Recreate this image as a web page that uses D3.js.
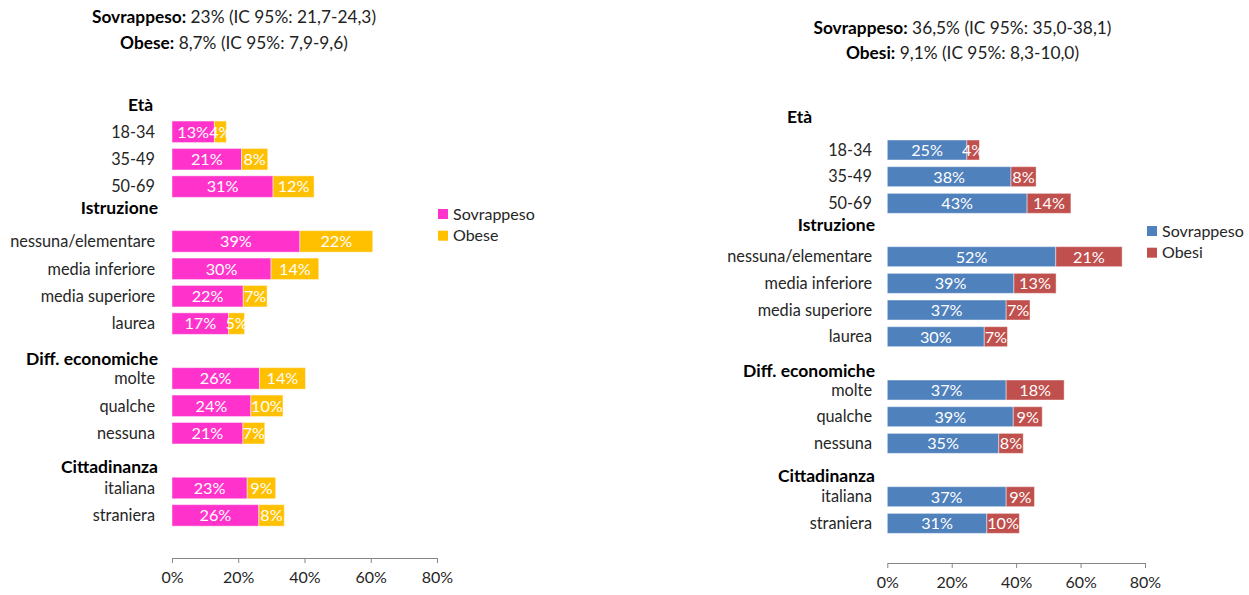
<!DOCTYPE html>
<html><head><meta charset="utf-8">
<script src="https://cdn.jsdelivr.net/npm/d3@7"></script>
<style>
body{margin:0;background:#fff}
svg{display:block}
text{font-family:Lato,"Open Sans",sans-serif}
</style>
</head><body>
<svg id="c" width="1249" height="595"></svg>
<script>
// ---------- DATA ----------
const groups = ["Età", "Istruzione", "Diff. economiche", "Cittadinanza"];
const categories = ["18-34", "35-49", "50-69", "nessuna/elementare", "media inferiore", "media superiore", "laurea", "molte", "qualche", "nessuna", "italiana", "straniera"];
const categoryGroup = [0, 0, 0, 1, 1, 1, 1, 2, 2, 2, 3, 3];
const leftSovrappeso = [12.8, 21.0, 30.5, 38.6, 29.9, 21.5, 17.1, 26.4, 23.8, 21.4, 22.7, 26.2];
const leftObese = [3.6, 7.9, 12.4, 22.0, 14.4, 7.2, 4.8, 13.9, 9.7, 6.6, 8.6, 7.7];
const rightSovrappeso = [24.7, 38.4, 43.4, 52.3, 39.3, 36.9, 30.1, 36.9, 39.1, 34.6, 36.9, 30.9];
const rightObesi = [3.9, 7.8, 13.6, 20.6, 13.1, 7.4, 7.2, 18.0, 9.0, 7.6, 8.8, 10.1];
const leftSeriesNames = ["Sovrappeso", "Obese"];
const rightSeriesNames = ["Sovrappeso", "Obesi"];
const leftTitle = [["Sovrappeso:", " 23% (IC 95%: 21,7-24,3)"], ["Obese:", " 8,7% (IC 95%: 7,9-9,6)"]];
const rightTitle = [["Sovrappeso:", " 36,5% (IC 95%: 35,0-38,1)"], ["Obesi:", " 9,1% (IC 95%: 8,3-10,0)"]];
const xTicks = [0, 20, 40, 60, 80];

// ---------- LAYOUT ----------
const svg = d3.select("#c");

// rows: header rows followed by their categories
const rows = [];
groups.forEach((g, gi) => {
  rows.push({type: "header", label: g, gi});
  categories.forEach((c, ci) => {
    if (categoryGroup[ci] === gi) rows.push({type: "cat", label: c, ci});
  });
});

const panels = [
  {
    sov: leftSovrappeso, ob: leftObese, names: leftSeriesNames, title: leftTitle,
    colors: ["#FF33CC", "#FFC000"],
    xr: [172, 437], yr: [90.7, 529.1], pad: 0.215, axisY: 558,
    labelX: 155, headerX: 158, etaX: 128, headerNudge: [0, -6, 8, 6],
    titleX: 234, titleY: [23, 49],
    legX: 438, legY: 214, legStep: 21.7
  },
  {
    sov: rightSovrappeso, ob: rightObesi, names: rightSeriesNames, title: rightTitle,
    colors: ["#4F81BD", "#C0504D"],
    xr: [887.3, 1145], yr: [110, 536.7], pad: 0.25, axisY: 563,
    labelX: 872, headerX: 875, etaX: 787, headerNudge: [-6, -5, 8, 6],
    titleX: 962.5, titleY: [34, 59],
    legX: 1147, legY: 231, legStep: 21.7
  }
];

panels.forEach(p => {
  const g = svg.append("g");
  const x = d3.scaleLinear().domain([0, 80]).range(p.xr);
  const y = d3.scaleBand().domain(d3.range(rows.length)).range(p.yr)
    .paddingInner(p.pad).paddingOuter(p.pad / 2);

  // title
  p.title.forEach((ln, i) => {
    const t = g.append("text").attr("x", p.titleX).attr("y", p.titleY[i])
      .attr("text-anchor", "middle").attr("font-size", 17.3).attr("fill", "#000");
    t.append("tspan").attr("font-weight", "bold").text(ln[0]);
    t.append("tspan").attr("fill", "#222").text(ln[1]);
  });

  // labels
  rows.forEach((r, i) => {
    const cy = y(i) + y.bandwidth() / 2;
    if (r.type === "header") {
      const isFirst = r.gi === 0;
      g.append("text")
        .attr("x", isFirst ? p.etaX : p.headerX)
        .attr("y", cy + p.headerNudge[r.gi])
        .attr("dy", "0.35em")
        .attr("text-anchor", isFirst ? "start" : "end")
        .attr("font-weight", "bold").attr("font-size", 17.5).attr("fill", "#000")
        .text(r.label);
    } else {
      g.append("text").attr("x", p.labelX).attr("y", cy).attr("dy", "0.35em")
        .attr("text-anchor", "end").attr("font-size", 16.3).attr("fill", "#262626")
        .text(r.label);
    }
  });

  // bars
  const catRows = rows.map((r, i) => ({...r, i})).filter(r => r.type === "cat");
  const segs = [];
  catRows.forEach(r => {
    const s = p.sov[r.ci], o = p.ob[r.ci];
    segs.push({row: r.i, x0: 0, x1: s, v: s, color: p.colors[0]});
    segs.push({row: r.i, x0: s, x1: s + o, v: o, color: p.colors[1]});
  });
  g.selectAll("rect.bar").data(segs).join("rect").attr("class", "bar")
    .attr("x", d => x(d.x0)).attr("y", d => y(d.row))
    .attr("width", d => x(d.x1) - x(d.x0)).attr("height", y.bandwidth())
    .attr("fill", d => d.color)
    .attr("stroke", "rgba(255,255,255,0.45)").attr("stroke-width", 1);
  g.selectAll("text.val").data(segs).join("text").attr("class", "val")
    .attr("x", d => (x(d.x0) + x(d.x1)) / 2)
    .attr("y", d => y(d.row) + y.bandwidth() / 2).attr("dy", "0.36em")
    .attr("text-anchor", "middle").attr("font-size", 16.2).attr("fill", "#fff")
    .text(d => Math.round(d.v) + "%");

  // axis
  const ax = g.append("g").attr("transform", `translate(0,${p.axisY})`)
    .call(d3.axisBottom(x).tickValues(xTicks).tickSize(5).tickSizeOuter(0).tickPadding(9)
      .tickFormat(d => d + "%"));
  ax.select(".domain").attr("stroke", "#868686");
  ax.selectAll(".tick line").attr("stroke", "#868686");
  ax.selectAll(".tick text").attr("font-size", 16).attr("fill", "#262626")
    .attr("font-family", "Lato, 'Open Sans', sans-serif");

  // legend
  p.names.forEach((n, i) => {
    const ly = p.legY + i * p.legStep;
    g.append("rect").attr("x", p.legX).attr("y", ly - 5).attr("width", 10).attr("height", 10)
      .attr("fill", p.colors[i]);
    g.append("text").attr("x", p.legX + 15).attr("y", ly).attr("dy", "0.35em")
      .attr("font-size", 16).attr("fill", "#262626").text(n);
  });
});
</script>
</body></html>
